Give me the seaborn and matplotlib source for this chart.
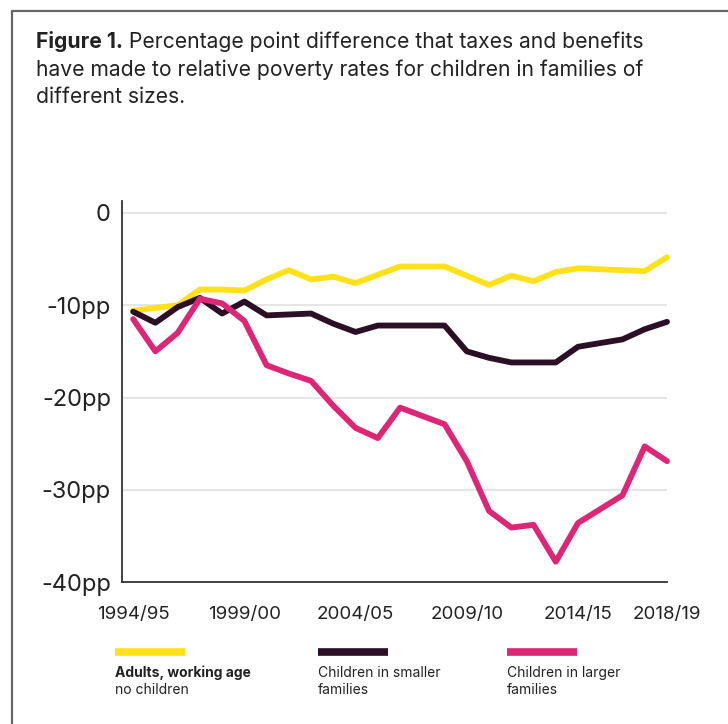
import matplotlib
matplotlib.use("Agg")
import matplotlib.pyplot as plt
import pandas as pd
import seaborn as sns
from matplotlib.lines import Line2D

years = [f"{y}/{(y + 1) % 100:02d}" for y in range(1994, 2019)]

adults = [-10.6, -10.3, -10.0, -8.3, -8.3, -8.4, -7.2, -6.2, -7.2, -6.9, -7.6, -6.7,
          -5.8, -5.8, -5.8, -6.8, -7.8, -6.8, -7.4, -6.4, -6.0, -6.1, -6.2, -6.3, -4.8]
smaller = [-10.7, -11.9, -10.2, -9.2, -10.9, -9.6, -11.1, -11.0, -10.9, -12.0, -12.9, -12.2,
           -12.2, -12.2, -12.2, -15.0, -15.7, -16.2, -16.2, -16.2, -14.5, -14.1, -13.7, -12.6, -11.8]
larger = [-11.5, -15.0, -13.0, -9.3, -9.8, -11.7, -16.5, -17.4, -18.2, -20.9, -23.3, -24.4,
          -21.1, -22.0, -22.9, -26.9, -32.3, -34.1, -33.8, -37.8, -33.6, -32.1, -30.6, -25.3, -26.9]

series_names = ["Adults, working age no children", "Children in smaller families",
                "Children in larger families"]
colors = ["#ffe11a", "#2b0f25", "#de2677"]

tick_years = ["1994/95", "1999/00", "2004/05", "2009/10", "2014/15", "2018/19"]
y_ticks = [0, -10, -20, -30, -40]
y_labels = ["0", "-10pp", "-20pp", "-30pp", "-40pp"]

FONT = ["Inter", "DejaVu Sans"]
TEXT = "#222222"


def main() -> None:
    df = pd.DataFrame({"year": years, "idx": range(len(years)),
                       series_names[0]: adults, series_names[1]: smaller,
                       series_names[2]: larger})
    long = df.melt(id_vars=["year", "idx"], var_name="group", value_name="pp")

    sns.set_theme(style="white")
    plt.rcParams["font.family"] = FONT

    fig = plt.figure(figsize=(7.28, 7.24), dpi=100)
    ax = fig.add_axes([0.1676, 0.1961, 0.7486, 0.5263])

    for v in y_ticks[:-1]:
        ax.axhline(v, color="#e6e6e6", lw=1.5, zorder=0)

    sns.lineplot(data=long, x="idx", y="pp", hue="group", hue_order=series_names,
                 palette=colors, lw=4.2, legend=False, ax=ax, zorder=3)
    for line in ax.lines[len(y_ticks) - 1:]:
        line.set_solid_capstyle("round")
        line.set_solid_joinstyle("round")
        line.set_clip_on(False)

    ax.set_xlim(-0.5, 24)
    ax.set_ylim(-40, 1.3)
    ax.set_xticks([years.index(t) for t in tick_years])
    ax.set_xticklabels(tick_years, fontsize=13.5, color=TEXT)
    ax.set_yticks(y_ticks)
    ax.set_yticklabels(y_labels, fontsize=17, color=TEXT)
    ax.set_xlabel("")
    ax.set_ylabel("")
    ax.tick_params(axis="x", direction="out", length=12, width=1.3, color="#333333", pad=5)
    ax.tick_params(axis="y", length=0, pad=8)
    sns.despine(ax=ax)
    for side in ["left", "bottom"]:
        ax.spines[side].set_color("#333333")
        ax.spines[side].set_linewidth(1.3)

    # frame of the figure box (top and left edges)
    fig.add_artist(Line2D([12 / 728, 12 / 728], [0, 1 - 11 / 724], color="#666666", lw=1.6))
    fig.add_artist(Line2D([12 / 728, 1], [1 - 11 / 724, 1 - 11 / 724], color="#666666", lw=1.6))

    # title
    size = 15.2
    t = fig.text(36 / 728, 1 - 42 / 724, "Figure 1.", fontsize=size, fontweight="bold",
                 color=TEXT, va="center")
    ax.annotate(" Percentage point difference that taxes and benefits", xy=(1, 0),
                xycoords=t, va="bottom", fontsize=size, color=TEXT)
    fig.text(36 / 728, 1 - 70 / 724,
             "have made to relative poverty rates for children in families of",
             fontsize=size, color=TEXT, va="center")
    fig.text(36 / 728, 1 - 97 / 724, "different sizes.", fontsize=size, color=TEXT, va="center")

    # legend
    legend_x = [115, 318, 507]
    first_lines = ["Adults, working age", "Children in smaller", "Children in larger"]
    second_lines = ["no children", "families", "families"]
    for i, x0 in enumerate(legend_x):
        fx = x0 / 728
        fig.add_artist(Line2D([fx, fx + 70 / 728], [1 - 652 / 724] * 2, color=colors[i],
                              lw=5.5, solid_capstyle="butt"))
        fig.text(fx, 1 - 673 / 724, first_lines[i], fontsize=10,
                 fontweight="bold" if i == 0 else "normal", color=TEXT, va="center")
        fig.text(fx, 1 - 690 / 724, second_lines[i], fontsize=10, color=TEXT, va="center")

    fig.savefig("out.png", dpi=100)
    plt.close(fig)


if __name__ == "__main__":
    main()
